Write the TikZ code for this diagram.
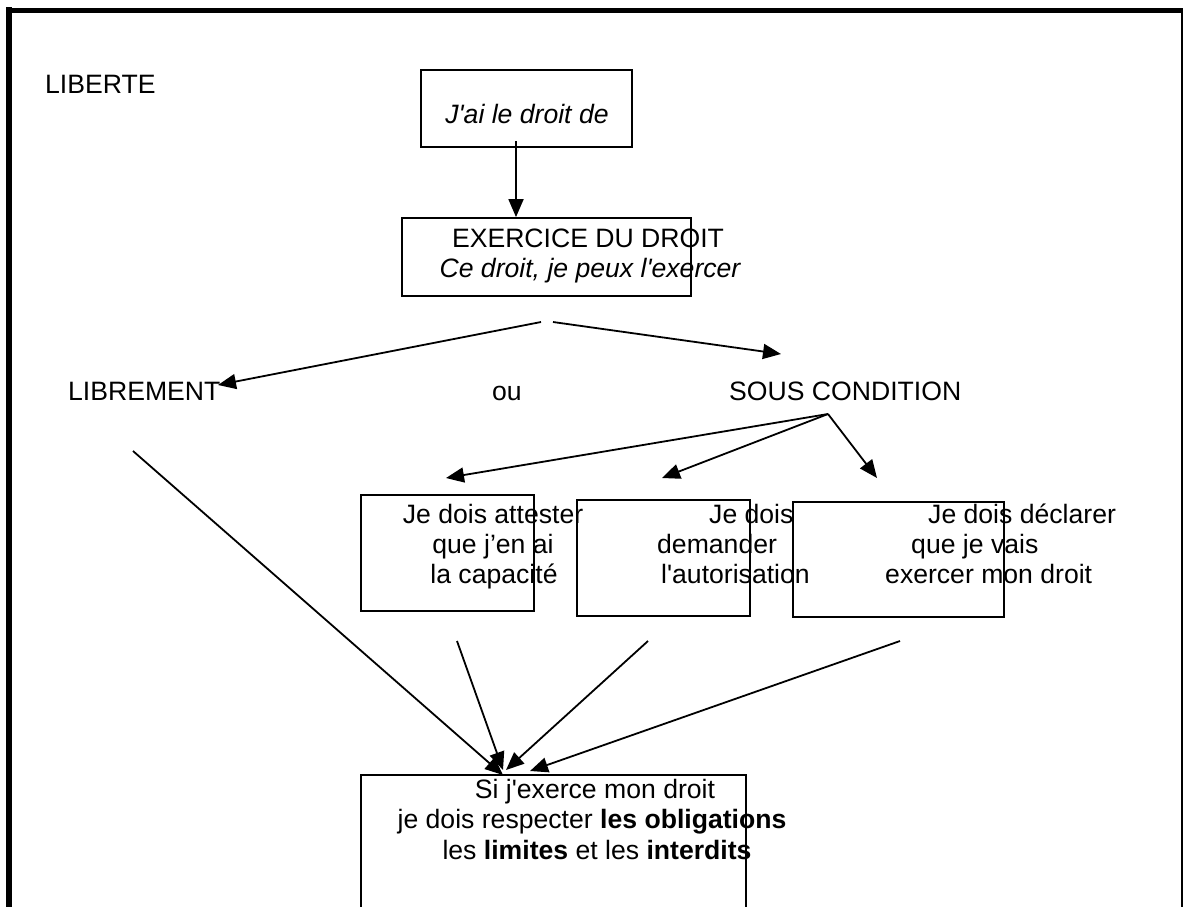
\documentclass[tikz,border=0pt]{standalone}
\usepackage{fontspec}
\setmainfont{Liberation Sans}
\usetikzlibrary{arrows.meta}
\newcommand\sq{\textquotesingle}
\begin{document}
\begin{tikzpicture}[x=1pt,y=-1pt,
  txt/.style={inner sep=0pt, anchor=base, font=\fontsize{26.6}{30}\selectfont},
  txtw/.style={txt, anchor=base west},
  box/.style={draw, line width=1.8pt, inner sep=0pt},
  arr/.style={line width=1.8pt, -{Triangle[length=18pt,width=15pt]}},
  frm/.style={line cap=rect}]
\useasboundingbox (0,0) rectangle (1183,906);
% frame
\draw[frm, line width=6pt] (9,910) -- (9,10);
\draw[frm, line width=5pt] (9,10) -- (1190,10);
\draw[line width=2.5pt] (1182,10) -- (1182,910);

% boxes
\node[box, minimum width=211pt, minimum height=77pt] (b1) at (526.5,108.5) {};
\node[box, minimum width=289pt, minimum height=78pt] (b2) at (546.5,257) {};
\node[box, minimum width=173pt, minimum height=116pt] (b3) at (447.5,553) {};
\node[box, minimum width=173pt, minimum height=116pt] (b4) at (663.5,558) {};
\node[box, minimum width=211pt, minimum height=115pt] (b5) at (898.5,559.5) {};
\node[box, minimum width=385pt, minimum height=170pt] (b6) at (553.5,860) {};

% texts
\node[txtw] (lib) at (45,93) {LIBERTE};
\node[txt] (t1) at (527,123) {\itshape J\sq ai le droit de};
\node[txt] (t2a) at (588,247) {EXERCICE DU DROIT};
\node[txt] (t2b) at (590,277) {\itshape Ce droit, je peux l\sq exercer};
\node[txtw] (libre) at (68,400) {LIBREMENT};
\node[txtw] (ou) at (492,400) {ou};
\node[txtw] (sc) at (729,400) {SOUS CONDITION};

\node[txt] (t3a) at (493,523) {Je dois attester};
\node[txt] (t3b) at (493,553) {que j’en ai};
\node[txt] (t3c) at (494,583) {la capacité};

\node[txtw] (t4a) at (709,523) {Je dois};
\node[txtw] (t4b) at (657,553) {demander};
\node[txtw] (t4c) at (661,583) {l\sq autorisation};

\node[txtw] (t5a) at (928,523) {Je dois déclarer};
\node[txtw] (t5b) at (911,553) {que je vais};
\node[txtw] (t5c) at (885,583) {exercer mon droit};

\node[txt] (t6a) at (595,798) {Si j\sq exerce mon droit};
\node[txt] (t6b) at (592,828.5) {je dois respecter \textbf{les obligations}};
\node[txt] (t6c) at (597,859) {les \textbf{limites} et les \textbf{interdits}};

% connector coordinates
\coordinate (s1) at (516,141);
\coordinate (sp1) at (541,322);
\coordinate (sp2) at (553,322);
\coordinate (libtip) at (218,385);
\coordinate (sctip) at (781,354);
\coordinate (sco) at (828,414);
\coordinate (e3) at (446,478);
\coordinate (e4) at (662,478);
\coordinate (e5) at (877,478);
\coordinate (l1s) at (133,451);
\coordinate (l1e) at (503,775);
\coordinate (l2s) at (457,641);
\coordinate (l2e) at (503,770);
\coordinate (l3s) at (648,641);
\coordinate (l3e) at (506,770);
\coordinate (l4s) at (900,641);
\coordinate (l4e) at (530,771);

% connectors
\draw[arr] (s1) -- (s1 |- b2.north);
\draw[arr] (sp1) -- (libtip);
\draw[arr] (sp2) -- (sctip);
\draw[arr] (sco) -- (e3);
\draw[arr] (sco) -- (e4);
\draw[arr] (sco) -- (e5);
\draw[arr] (l1s) -- (l1e);
\draw[arr] (l2s) -- (l2e);
\draw[arr] (l3s) -- (l3e);
\draw[arr] (l4s) -- (l4e);
\end{tikzpicture}
\end{document}
